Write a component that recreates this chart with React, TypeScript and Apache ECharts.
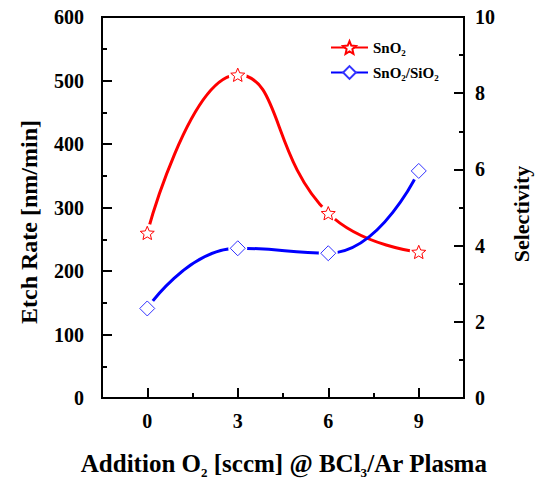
import React, { useEffect, useRef } from "react";
import * as echarts from "echarts";

const O2_FLOW = [0, 3, 6, 9];
const ETCH_RATE_SNO2 = [260, 509, 291, 230];
const SELECTIVITY = [2.35, 3.93, 3.8, 5.96];
const X_MAJOR_TICKS = [0, 3, 6, 9];
const X_MINOR_TICKS = [1.5, 4.5, 7.5];

const FONT = '"Liberation Serif", "Times New Roman", serif';
const STAR =
  "path://M0,-1L0.2645,-0.364L0.951,-0.309L0.428,0.139L0.588,0.809L0,0.45L-0.588,0.809L-0.428,0.139L-0.951,-0.309L-0.2645,-0.364Z";

export default function App() {
  const ref = useRef<HTMLDivElement>(null);
  useEffect(() => {
    document.body.style.margin = "0";
    if (!ref.current) return;
    const chart = echarts.init(ref.current, null, { renderer: "svg" });
    const red = ETCH_RATE_SNO2.map((v, i) => [O2_FLOW[i], v]);
    const blue = SELECTIVITY.map((v, i) => [O2_FLOW[i], v]);
    const labelStyle = {
      color: "#000",
      fontSize: 20,
      fontWeight: "bold",
      fontFamily: FONT,
    };
    const axisLine = { show: true, onZero: false, lineStyle: { color: "#000", width: 2 } };
    chart.setOption({
      animation: false,
      grid: {
        left: 102,
        right: 74,
        top: 17,
        bottom: 81,
        show: true,
        borderColor: "#000",
        borderWidth: 2,
        backgroundColor: "transparent",
      },
      legend: {
        orient: "vertical",
        left: 330,
        top: 40,
        padding: 0,
        itemGap: 8,
        itemWidth: 37,
        itemHeight: 16,
        data: ["SnO2", "SnO2/SiO2"],
        formatter: (name: string) =>
          name === "SnO2" ? "{a|SnO}{s|2}" : "{a|SnO}{s|2}{a|/SiO}{s|2}",
        textStyle: {
          color: "#000",
          rich: {
            a: { fontSize: 15, fontWeight: "bold", fontFamily: FONT, color: "#000", lineHeight: 20 },
            s: { fontSize: 9, fontWeight: "bold", fontFamily: FONT, color: "#000", padding: [10, 0, 0, 0] },
          },
        },
      },
      xAxis: [
        {
          type: "value",
          position: "bottom",
          min: -1.5,
          max: 10.5,
          axisLine,
          axisTick: { show: true, inside: true, length: 10, customValues: X_MAJOR_TICKS, lineStyle: { color: "#000", width: 2 } },
          axisLabel: { ...labelStyle, margin: 13, customValues: X_MAJOR_TICKS },
          splitLine: { show: false },
        },
        {
          type: "value",
          position: "bottom",
          min: -1.5,
          max: 10.5,
          axisLine: { show: false, onZero: false },
          axisTick: { show: true, inside: true, length: 5, customValues: X_MINOR_TICKS, lineStyle: { color: "#000", width: 2 } },
          axisLabel: { show: false },
          splitLine: { show: false },
        },
      ],
      yAxis: [
        {
          type: "value",
          position: "left",
          min: 0,
          max: 600,
          interval: 100,
          axisLine,
          axisTick: { show: true, inside: true, length: 10, lineStyle: { color: "#000", width: 2 } },
          minorTick: { show: true, splitNumber: 2, length: 5, lineStyle: { color: "#000", width: 2 } },
          axisLabel: { ...labelStyle, margin: 18 },
          splitLine: { show: false },
        },
        {
          type: "value",
          position: "right",
          min: 0,
          max: 10,
          interval: 2,
          axisLine,
          axisTick: { show: true, inside: true, length: 10, lineStyle: { color: "#000", width: 2 } },
          minorTick: { show: true, splitNumber: 2, length: 5, lineStyle: { color: "#000", width: 2 } },
          axisLabel: { ...labelStyle, margin: 11 },
          splitLine: { show: false },
        },
      ],
      series: [
        {
          name: "SnO2",
          type: "line",
          data: red,
          smooth: true,
          symbol: STAR,
          showSymbol: false,
          z: 2,
          lineStyle: { color: "#ff0000", width: 3 },
          itemStyle: { color: "#fff", borderColor: "#ff0000", borderWidth: 1 },
        },
        {
          name: "SnO2/SiO2",
          type: "line",
          yAxisIndex: 1,
          data: blue,
          smooth: true,
          symbol: "diamond",
          showSymbol: false,
          z: 2,
          lineStyle: { color: "#0000ff", width: 3 },
          itemStyle: { color: "#fff", borderColor: "#3333ff", borderWidth: 1 },
        },
        {
          name: "gapRed",
          type: "scatter",
          data: red,
          symbol: "circle",
          symbolSize: 18,
          z: 3,
          itemStyle: { color: "#fff", opacity: 1 },
        },
        {
          name: "gapBlue",
          type: "scatter",
          yAxisIndex: 1,
          data: blue,
          symbol: "circle",
          symbolSize: 19,
          z: 3,
          itemStyle: { color: "#fff", opacity: 1 },
        },
        {
          name: "markRed",
          type: "scatter",
          data: red,
          symbol: STAR,
          symbolKeepAspect: true,
          symbolSize: 14,
          z: 4,
          itemStyle: { color: "#fff", borderColor: "#ff0000", borderWidth: 1, opacity: 1 },
        },
        {
          name: "markBlue",
          type: "scatter",
          yAxisIndex: 1,
          data: blue,
          symbol: "diamond",
          symbolSize: [15, 15],
          z: 4,
          itemStyle: { color: "#fff", borderColor: "#3333ff", borderWidth: 1, opacity: 1 },
        },
      ],
      graphic: [
        {
          type: "text",
          x: 29,
          y: 222,
          rotation: Math.PI / 2,
          style: {
            text: "Etch Rate [nm/min]",
            fill: "#000",
            fontSize: 24,
            fontWeight: "bold",
            fontFamily: FONT,
            align: "center",
            verticalAlign: "middle",
            textAlign: "center",
            textVerticalAlign: "middle",
          },
        },
        {
          type: "text",
          x: 521,
          y: 214,
          rotation: Math.PI / 2,
          style: {
            text: "Selectivity",
            fill: "#000",
            fontSize: 22,
            fontWeight: "bold",
            fontFamily: FONT,
            align: "center",
            verticalAlign: "middle",
            textAlign: "center",
            textVerticalAlign: "middle",
          },
        },
        {
          type: "text",
          x: 284,
          y: 463,
          style: {
            text: "{a|Addition O}{s|2}{a| [sccm] @ BCl}{s|3}{a|/Ar Plasma}",
            align: "center",
            verticalAlign: "middle",
            textAlign: "center",
            textVerticalAlign: "middle",
            rich: {
              a: { fontSize: 25, fontWeight: "bold", fontFamily: FONT, fill: "#000", lineHeight: 24 },
              s: { fontSize: 13, fontWeight: "bold", fontFamily: FONT, fill: "#000", padding: [18, 0, 0, 0] },
            },
          },
        },
      ],
    });
    return () => chart.dispose();
  }, []);
  return <div ref={ref} style={{ width: 538, height: 479 }} />;
}
